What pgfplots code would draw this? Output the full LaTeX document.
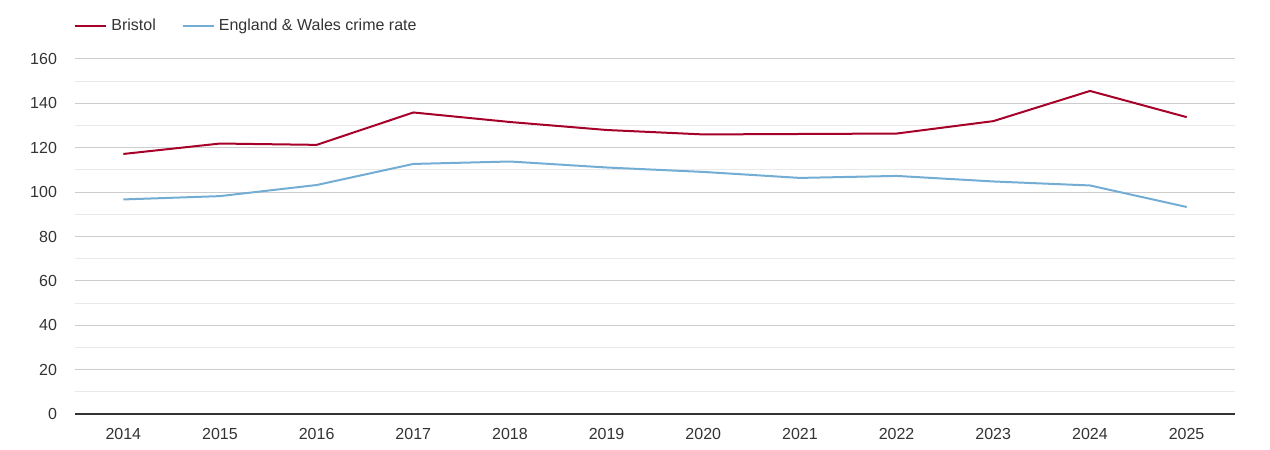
\documentclass[border=0pt]{standalone}
\usepackage{fontspec}
\setmainfont{Liberation Sans}
\usepackage{pgfplots}
\pgfplotsset{compat=1.18}
\definecolor{bristol}{RGB}{166,0,40}
\definecolor{ew}{RGB}{115,173,212}
\definecolor{txt}{RGB}{51,51,51}
\begin{document}
\begin{tikzpicture}[x=0.5pt,y=0.5pt]
\useasboundingbox (0,0) rectangle (1270,450);
\begin{axis}[
  at={(75*0.5pt,36*0.5pt)}, anchor=south west,
  scale only axis, width=580pt, height=177.5pt,
  xmin=2013.5, xmax=2025.5, ymin=0, ymax=160,
  xtick={2014,...,2025}, ytick={0,20,...,160}, minor ytick={10,30,...,150},
  xticklabel style={/pgf/number format/1000 sep={}},
  /pgf/number format/assume math mode=true,
  major tick length=0pt, minor tick length=0pt,
  ymajorgrids, yminorgrids,
  major grid style={draw={rgb,255:red,204;green,204;blue,204}, line width=0.5pt},
  minor grid style={draw={rgb,255:red,234;green,234;blue,234}, line width=0.5pt},
  axis line style={draw=none},
  axis x line*=bottom, axis y line*=left,
  x axis line style={draw=txt, line width=0.6pt},
  tick label style={font=\fontsize{8}{9}\selectfont, text=txt},
  yticklabel style={xshift=-5.5pt},
  xticklabel style={yshift=-3.5pt},
  legend columns=-1,
  legend style={at={(0,1)}, anchor=south west, yshift=8.5pt, xshift=-3.5pt, draw=none, fill=none,
    font=\fontsize{8}{9}\selectfont, text=txt,
    /tikz/every even column/.append style={column sep=11pt}},
  legend image code/.code={\draw[#1] (0pt,0pt) -- (15.5pt,0pt);},
  every axis plot/.append style={line width=1pt, line join=round},
]
\addplot[bristol, no marks] coordinates {
 (2014,117.2) (2015,121.9) (2016,121.3) (2017,135.9) (2018,131.6) (2019,128.0)
 (2020,126.0) (2021,126.2) (2022,126.4) (2023,132.0) (2024,145.6) (2025,133.8)};
\addlegendentry{Bristol}
\addplot[ew, no marks] coordinates {
 (2014,96.7) (2015,98.2) (2016,103.2) (2017,112.7) (2018,113.8) (2019,111.1)
 (2020,109.1) (2021,106.4) (2022,107.3) (2023,104.8) (2024,103.0) (2025,93.3)};
\addlegendentry{England \& Wales crime rate}
\end{axis}
\end{tikzpicture}
\end{document}
